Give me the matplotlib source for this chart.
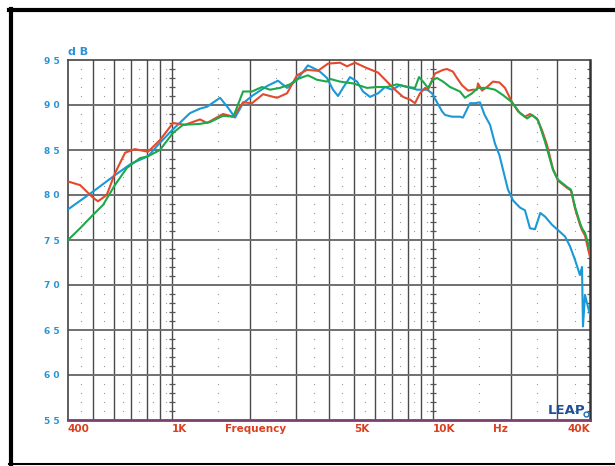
import matplotlib
matplotlib.use("Agg")
import matplotlib.pyplot as plt
from matplotlib.lines import Line2D
from matplotlib.ticker import NullLocator

# frequency response curves (Hz, dB)
blue_f = [400, 500, 605, 700, 810, 900, 1010, 1174, 1282, 1363, 1530, 1641, 1746,
          1874, 2050, 2315, 2550, 2762, 3017, 3320, 3598, 3695, 3930, 4143, 4331,
          4526, 4815, 5122, 5399, 5743, 6170, 6555, 6973, 7485, 8030, 8690, 9510,
          9920, 10190, 10840, 11130, 11840, 12700, 13040, 13880, 14500, 15150,
          15780, 16560, 17300, 18000, 18570, 19400, 20280, 21570, 22540, 23560,
          24620, 25800, 26900, 28600, 30160, 32080, 33530, 35040, 36610, 37270,
          37600, 38270, 38950, 40000]
blue_db = [78.4, 80.4, 82.2, 83.5, 84.3, 85.8, 87.3, 89.1, 89.6, 89.8, 90.8, 89.7, 88.6,
           90.2, 91.1, 92.1, 92.7, 91.9, 92.8, 94.4, 93.9, 93.7, 93.0, 91.7, 91.0,
           91.9, 93.1, 92.6, 91.5, 90.9, 91.3, 92.0, 91.7, 92.2, 92.0, 91.7, 91.7,
           91.3, 90.7, 89.3, 88.9, 88.7, 88.7, 88.6, 90.2, 90.2, 90.3,
           88.9, 87.8, 85.7, 84.4, 82.8, 80.6, 79.4, 78.6, 78.3, 76.3,
           76.2, 78.0, 77.6, 76.7, 76.1, 75.4, 74.3, 72.8, 71.1, 72.0,
           65.4, 68.9, 68.0, 66.7]

red_f = [400, 445, 499, 521, 563, 605, 662, 722, 810, 900, 1010, 1123, 1282, 1363,
         1570, 1720, 1874, 2028, 2235, 2528, 2762, 3017, 3294, 3630, 3965, 4408,
         4689, 5032, 5591, 6170, 6672, 7040, 7684, 8173, 8541, 8930, 9340, 9580,
         10190, 10940, 11330, 11940, 12370, 12930, 13640, 14250, 14760, 14890,
         15430, 16120, 17000, 18000, 18900, 20100, 21190, 22540, 23560, 25060,
         26190, 27350, 28850, 30160, 32650, 33830, 35040, 36610, 37270, 38270, 40000]
red_db = [81.5, 81.1, 79.7, 79.3, 80.0, 82.4, 84.7, 85.1, 84.8, 86.1, 88.0, 87.8, 88.4, 88.0,
          89.0, 88.7, 90.3, 90.2, 91.2, 90.8, 91.3, 93.3, 93.9, 93.8, 94.6, 94.7,
          94.3, 94.7, 94.1, 93.6, 92.6, 91.9, 90.9, 90.6, 90.2, 91.3, 91.9, 91.7,
          93.5, 93.9, 94.0, 93.7, 93.0, 92.2, 91.6, 91.7, 91.7, 92.4,
          91.6, 92.0, 92.6, 92.5, 91.9, 90.3, 89.3, 88.7, 89.0, 88.5,
          87.2, 85.6, 82.9, 81.6, 80.8, 80.5, 78.5, 76.7, 76.1, 75.5, 73.1]

green_f = [400, 445, 499, 545, 605, 672, 755, 810, 900, 1010, 1103, 1282, 1400, 1570,
           1720, 1874, 2028, 2215, 2377, 2596, 2836, 3040, 3320, 3598, 3930, 4035,
           4408, 4943, 5591, 6110, 6672, 7290, 7961, 8541, 8850, 9170, 9580, 10000,
           10370, 10650, 10940, 11630, 12700, 13280, 14130, 14890, 16120, 17300,
           18570, 20100, 21570, 22950, 24000, 25300, 26900, 28850, 30160, 32650,
           33830, 35040, 36610, 37270, 38270, 40000]
green_db = [75.0, 76.3, 77.8, 78.9, 81.1, 83.0, 84.1, 84.3, 85.0, 86.9, 87.8, 87.9, 88.1, 88.8,
            88.7, 91.5, 91.5, 92.0, 91.7, 91.9, 92.3, 92.9, 93.3, 92.8, 92.6, 92.9,
            92.6, 92.4, 91.9, 92.0, 92.0, 92.3, 92.0, 91.9, 93.1, 92.6, 91.9, 92.8,
            93.0, 92.8, 92.6, 92.0, 91.5, 90.8, 91.3, 91.9, 91.9, 91.7,
            91.1, 90.3, 89.1, 88.5, 88.9, 88.3, 85.9, 82.8, 81.7, 80.9,
            80.6, 78.7, 76.9, 76.3, 75.8, 73.9]

# grid layout
major_f = [500, 600, 700, 800, 900, 1000, 2000, 3000, 4000, 5000, 6000, 7000,
           8000, 9000, 10000, 20000, 30000]
mid_f = [450, 550, 650, 750, 850, 950, 1500, 2500, 3500, 4500, 5500, 6500, 7500,
         8500, 9500, 15000, 25000, 35000]
db_ticks = [55, 60, 65, 70, 75, 80, 85, 90, 95]
db_labels = ["5 5", "6 0", "6 5", "7 0", "7 5", "8 0", "8 5", "9 0", "9 5"]
db_minor = [d for d in range(56, 95) if d % 5 != 0]

W, H = 615, 466
fig = plt.figure(figsize=(W / 100, H / 100), dpi=100)
ax = fig.add_axes([68 / W, 1 - 420 / H, (590 - 68) / W, (420 - 60) / H])

ax.set_xscale("log")
ax.set_xlim(400, 40000)
ax.set_ylim(55, 95)
ax.xaxis.set_major_locator(NullLocator())
ax.xaxis.set_minor_locator(NullLocator())
ax.set_yticks(db_ticks)
ax.set_yticklabels(db_labels)
ax.tick_params(axis="y", length=0, pad=6, labelsize=6.5, labelcolor="#2a93d5")
for lab in ax.get_yticklabels():
    lab.set_fontweight("bold")

for f in major_f:
    ax.axvline(f, color="#4a4a4a", lw=1.0, zorder=1)
for d in db_ticks[1:-1]:
    ax.axhline(d, color="#707070", lw=1.4, zorder=1)
for f in mid_f:
    ax.plot([f] * len(db_minor), db_minor, ls="none", marker="s", ms=0.8,
            color="#9a9a9a", mew=0, zorder=1)
for f in [1000, 10000, 40000]:
    ax.plot([f] * len(db_minor), db_minor, ls="none", marker="_", ms=4,
            mew=0.9, color="#555555", zorder=1)

for s in ["top", "left"]:
    ax.spines[s].set_color("#444444")
    ax.spines[s].set_linewidth(1.2)
ax.spines["right"].set_color("#333333")
ax.spines["right"].set_linewidth(1.8)
ax.spines["bottom"].set_color("#7b3f70")
ax.spines["bottom"].set_linewidth(2.0)

ax.plot(blue_f, blue_db, color="#1a98d8", lw=1.5, zorder=3)
ax.plot(red_f, red_db, color="#e34a2c", lw=1.5, zorder=4)
ax.plot(green_f, green_db, color="#1fa84a", lw=1.5, zorder=5)

# x labels
red_txt = dict(color="#d8401f", fontsize=7.5, fontweight="bold", va="center",
               transform=ax.get_xaxis_transform())
ax.text(400, -0.025, "400", ha="left", **red_txt)
ax.text(1000, -0.025, "1K", ha="left", **red_txt)
ax.text(1600, -0.025, "Frequency", ha="left", **red_txt)
ax.text(5000, -0.025, "5K", ha="left", **red_txt)
ax.text(10000, -0.025, "10K", ha="left", **red_txt)
ax.text(17000, -0.025, "Hz", ha="left", **red_txt)
ax.text(40000, -0.025, "40K", ha="right", **red_txt)

ax.text(0.0, 1.022, "d B", transform=ax.transAxes, ha="left", va="center",
        color="#2a93d5", fontsize=8, fontweight="bold")

# logo
ax.text(0.991, 0.026, "LEAP", transform=ax.transAxes, ha="right", va="center",
        color="#1f4f96", fontsize=9.5, fontweight="bold", zorder=6)
ax.plot([0.992], [0.016], transform=ax.transAxes, marker="o", ms=3.5,
        mfc="white", mec="#1f6fb0", mew=1.0, zorder=7, clip_on=False)

# outer frame
fig.add_artist(Line2D([11 / W, 11 / W], [1 - 9 / H, 1 - 464 / H],
                      transform=fig.transFigure, color="black", lw=3.0))
fig.add_artist(Line2D([9 / W, 1.0], [1 - 10 / H, 1 - 10 / H],
                      transform=fig.transFigure, color="black", lw=3.0))
fig.add_artist(Line2D([9 / W, 1.0], [1 - 464 / H, 1 - 464 / H],
                      transform=fig.transFigure, color="black", lw=1.5))

fig.savefig("out.png", dpi=100)
